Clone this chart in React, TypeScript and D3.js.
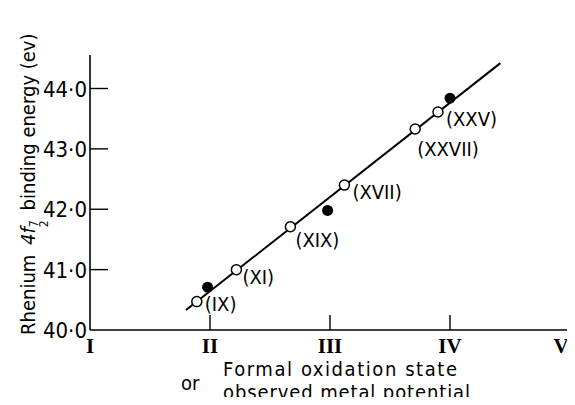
import React, { useEffect, useRef } from 'react';
import * as d3 from 'd3';

// oxidation state / metal potential (x) and Re 4f7/2 binding energy (y)
const openLabels = ['(IX)', '(XI)', '(XIX)', '(XVII)', '(XXVII)', '(XXV)'];
const openX = [1.89, 2.22, 2.67, 3.12, 3.71, 3.9];
const openY = [40.47, 41.0, 41.71, 42.4, 43.33, 43.61];
const filledX = [1.98, 2.98, 4.0];
const filledY = [40.71, 41.98, 43.84];
const fitX = [1.8, 4.42];
const fitY = [40.33, 44.42];
const xTicks = [1, 2, 3, 4, 5];
const xTickLabels = ['I', 'II', 'III', 'IV', 'V'];
const yTicks = [40, 41, 42, 43, 44];

// label offsets next to each open circle (px)
const labelOffset: Record<string, [number, number]> = {
  '(IX)': [8, 9],
  '(XI)': [6, 14],
  '(XIX)': [5, 20],
  '(XVII)': [8, 14],
  '(XXVII)': [2, 27],
  '(XXV)': [8, 14],
};

export default function App() {
  const svgRef = useRef<SVGSVGElement>(null);
  const width = 575;
  const height = 405;

  useEffect(() => {
    const svg = d3.select(svgRef.current);
    svg.selectAll('*').remove();

    const x = d3.scaleLinear().domain([1, 5]).range([90, 570]);
    const y = d3.scaleLinear().domain([40, 44]).range([330, 88.5]);
    const yTop = 55;
    const narrow = "'Liberation Sans Narrow', 'DejaVu Sans Condensed', sans-serif";
    const cond = "'DejaVu Sans Condensed', 'DejaVu Sans', sans-serif";

    // axes
    svg.append('line')
      .attr('x1', x(1)).attr('x2', x(1))
      .attr('y1', y(40)).attr('y2', yTop)
      .attr('stroke', '#000').attr('stroke-width', 1.6);
    svg.append('line')
      .attr('x1', x(1)).attr('x2', x(5))
      .attr('y1', y(40)).attr('y2', y(40))
      .attr('stroke', '#000').attr('stroke-width', 1.6);

    // y ticks (inward)
    svg.selectAll('.ytick')
      .data(yTicks.slice(1))
      .enter()
      .append('line')
      .attr('x1', x(1)).attr('x2', x(1) + 18)
      .attr('y1', (d) => y(d)).attr('y2', (d) => y(d))
      .attr('stroke', '#000').attr('stroke-width', 1.4);

    svg.selectAll('.ylab')
      .data(yTicks)
      .enter()
      .append('text')
      .text((d) => d3.format('.1f')(d).replace('.', '·'))
      .attr('x', x(1) - 3)
      .attr('y', (d) => y(d) + 8)
      .attr('text-anchor', 'end')
      .attr('font-family', narrow)
      .attr('font-size', 22)
      .attr('fill', '#000');

    // x ticks (upward)
    svg.selectAll('.xtick')
      .data(xTicks.slice(1))
      .enter()
      .append('line')
      .attr('x1', (d) => x(d)).attr('x2', (d) => x(d))
      .attr('y1', y(40)).attr('y2', y(40) - 15)
      .attr('stroke', '#000').attr('stroke-width', 1.4);

    svg.selectAll('.xlab')
      .data(xTicks)
      .enter()
      .append('text')
      .text((_, i) => xTickLabels[i])
      .attr('x', (d) => Math.min(x(d), 561))
      .attr('y', 353)
      .attr('text-anchor', 'middle')
      .attr('font-family', "'Liberation Serif', serif")
      .attr('font-weight', 'bold')
      .attr('font-size', 21)
      .attr('fill', '#000');

    // fitted line
    const line = d3.line<number>()
      .x((d) => x(d))
      .y((_, i) => y(fitY[i]));
    svg.append('path')
      .attr('d', line(fitX))
      .attr('fill', 'none')
      .attr('stroke', '#000')
      .attr('stroke-width', 2);

    // filled points
    svg.selectAll('.filled')
      .data(filledX)
      .enter()
      .append('circle')
      .attr('cx', (d) => x(d))
      .attr('cy', (_, i) => y(filledY[i]))
      .attr('r', 5.5)
      .attr('fill', '#000');

    // open points
    svg.selectAll('.open')
      .data(openX)
      .enter()
      .append('circle')
      .attr('cx', (d) => x(d))
      .attr('cy', (_, i) => y(openY[i]))
      .attr('r', 5)
      .attr('fill', '#fff')
      .attr('stroke', '#000')
      .attr('stroke-width', 1.5);

    svg.selectAll('.plab')
      .data(openLabels)
      .enter()
      .append('text')
      .text((d) => d)
      .attr('x', (d, i) => x(openX[i]) + labelOffset[d][0])
      .attr('y', (d, i) => y(openY[i]) + labelOffset[d][1])
      .attr('font-family', narrow)
      .attr('font-size', 20)
      .attr('fill', '#000');

    // x axis title
    svg.append('text')
      .text('Formal oxidation state')
      .attr('x', 223).attr('y', 376)
      .attr('textLength', 234)
      .attr('font-family', cond).attr('font-size', 20).attr('fill', '#000');
    svg.append('text')
      .text('or')
      .attr('x', 181).attr('y', 390)
      .attr('font-family', cond).attr('font-size', 20).attr('fill', '#000');
    svg.append('text')
      .text('observed metal potential')
      .attr('x', 223).attr('y', 399)
      .attr('textLength', 247)
      .attr('font-family', cond).attr('font-size', 20).attr('fill', '#000');

    // y axis title
    const yt = svg.append('text')
      .attr('transform', 'translate(35,335) rotate(-90)')
      .attr('font-family', cond).attr('font-size', 20).attr('fill', '#000');
    yt.append('tspan').text('Rhenium ');
    yt.append('tspan').text('4f').attr('font-style', 'italic').attr('dx', 4);
    yt.append('tspan').text('7').attr('font-size', 12).attr('dy', 3);
    yt.append('tspan').text('2').attr('font-size', 12).attr('dx', -7).attr('dy', 10);
    yt.append('tspan').text('binding energy (ev)').attr('dx', 10).attr('dy', -13);
  }, []);

  return (
    <div style={{ margin: -8 }}>
      <svg ref={svgRef} width={width} height={height} style={{ display: 'block', background: '#fff' }}></svg>
    </div>
  );
}
